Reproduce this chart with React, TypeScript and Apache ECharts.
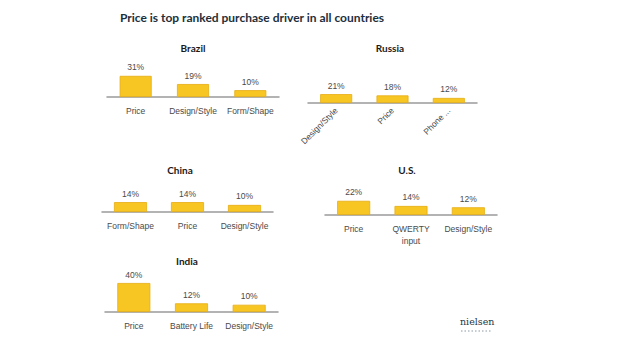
import React, { useEffect, useRef } from "react";
import * as echarts from "echarts";

const mainTitle = "Price is top ranked purchase driver in all countries";

const countries = ["Brazil", "Russia", "China", "U.S.", "India"];

const brazilCategories = ["Price", "Design/Style", "Form/Shape"];
const brazilValues = [31, 19, 10];

const russiaCategories = ["Design/Style", "Price", "Phone ..."];
const russiaValues = [21, 18, 12];

const chinaCategories = ["Form/Shape", "Price", "Design/Style"];
const chinaValues = [14, 14, 10];

const usCategories = ["Price", "QWERTY\ninput", "Design/Style"];
const usValues = [22, 14, 12];

const indiaCategories = ["Price", "Battery Life", "Design/Style"];
const indiaValues = [40, 12, 10];

const panelCategories = [brazilCategories, russiaCategories, chinaCategories, usCategories, indiaCategories];
const panelValues = [brazilValues, russiaValues, chinaValues, usValues, indiaValues];

// layout: left, width, axisY (bottom), yMax, title x/y, label rotate
const layout = [
  { left: 107, width: 172, axisY: 97, max: 44, tx: 193, ty: 43, rotate: 0, barW: 32 },
  { left: 308, width: 169, axisY: 103, max: 71, tx: 390, ty: 43, rotate: 45, barW: 32 },
  { left: 102, width: 171, axisY: 212, max: 42.5, tx: 180, ty: 165, rotate: 0, barW: 33 },
  { left: 325, width: 172, axisY: 215, max: 46.5, tx: 407, ty: 165, rotate: 0, barW: 33 },
  { left: 105, width: 173, axisY: 312, max: 41.4, tx: 187, ty: 256, rotate: 0, barW: 33 },
];

const GRID_H = 30;

export default function App() {
  const ref = useRef<HTMLDivElement>(null);
  useEffect(() => {
    if (!ref.current) return;
    const chart = echarts.init(ref.current, null, { renderer: "svg" });
    const titles: any[] = [
      {
        text: mainTitle,
        left: 252,
        top: 11,
        padding: 0,
        textAlign: "center",
        textStyle: { fontFamily: "Lato", fontWeight: "bold", fontSize: 12, color: "#1d2f3b" },
      },
    ];
    const grids: any[] = [];
    const xAxes: any[] = [];
    const yAxes: any[] = [];
    const series: any[] = [];
    layout.forEach((l, i) => {
      titles.push({
        text: countries[i],
        left: l.tx,
        top: l.ty,
        padding: 0,
        textAlign: "center",
        textStyle: { fontFamily: "Lato", fontWeight: "bold", fontSize: 10, color: "#1a1a1a" },
      });
      grids.push({ left: l.left, width: l.width, top: l.axisY - GRID_H, height: GRID_H });
      xAxes.push({
        type: "category",
        gridIndex: i,
        data: panelCategories[i],
        axisLine: { show: true, lineStyle: { color: "#9a9a9a", width: 1.5 } },
        axisTick: { show: false },
        axisLabel: {
          color: "#4a4a4a",
          fontFamily: "Liberation Sans",
          fontSize: 8.5,
          margin: l.rotate ? 6 : 8,
          rotate: l.rotate,
          lineHeight: 12,
          interval: 0,
        },
      });
      yAxes.push({
        type: "value",
        gridIndex: i,
        min: 0,
        max: l.max,
        show: false,
        splitLine: { show: false },
      });
      series.push({
        type: "bar",
        xAxisIndex: i,
        yAxisIndex: i,
        data: panelValues[i],
        barWidth: l.barW,
        itemStyle: { color: "#F8C623", borderColor: "#E6AC12", borderWidth: 0.8 },
        label: {
          show: true,
          position: "top",
          distance: 4,
          formatter: "{c}%",
          color: "#4a4a4a",
          fontFamily: "Liberation Sans",
          fontSize: 8.5,
        },
      });
    });
    chart.setOption({
      animation: false,
      backgroundColor: "#ffffff",
      title: titles,
      grid: grids,
      xAxis: xAxes,
      yAxis: yAxes,
      series,
      graphic: [
        {
          type: "text",
          left: 460,
          top: 316,
          style: { text: "nielsen", fontFamily: "DejaVu Serif", fontSize: 9.5, fill: "#263845" },
        },
        {
          type: "line",
          shape: { x1: 461, y1: 331, x2: 492, y2: 331 },
          style: { stroke: "#8a99a4", lineWidth: 1, lineDash: [1.5, 2] },
        },
      ],
    });
    return () => chart.dispose();
  }, []);
  return <div ref={ref} style={{ position: "fixed", left: 0, top: 0, width: 620, height: 350 }} />;
}
